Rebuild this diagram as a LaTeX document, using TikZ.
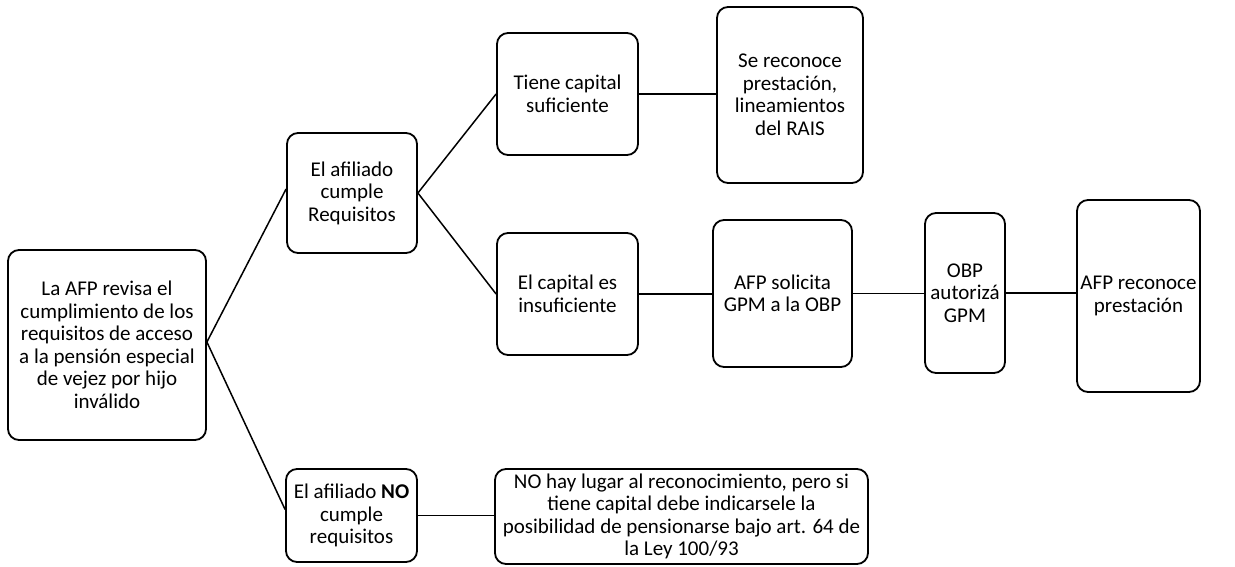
\documentclass[tikz,border=0pt]{standalone}
\usepackage{fontspec}
\setmainfont{Carlito}
\begin{document}
\begin{tikzpicture}[x=1pt,y=-1pt,
  box/.style={draw=black, line width=1.8pt, rounded corners=11pt, align=center,
    inner sep=0pt, font=\fontsize{21}{22.5}\selectfont},
  link/.style={draw=black, line width=1.5pt}]
\useasboundingbox[fill=white] (0,0) rectangle (1235,567);
\node[box, minimum width=198pt, minimum height=190pt] (A) at (107,345)
  {La AFP revisa el\\cumplimiento de los\\requisitos de acceso\\a la pensión especial\\de vejez por hijo\\inválido};
\node[box, minimum width=130pt, minimum height=120pt] (B) at (352,193)
  {El afiliado\\cumple\\Requisitos};
\node[box, minimum width=141pt, minimum height=122pt] (C) at (567.5,94)
  {Tiene capital\\suficiente};
\node[box, minimum width=146pt, minimum height=176pt] (D) at (790,95)
  {Se reconoce\\prestación,\\lineamientos\\del RAIS};
\node[box, minimum width=141pt, minimum height=122pt] (E) at (567.5,294)
  {El capital es\\insuficiente};
\node[box, minimum width=139pt, minimum height=147pt] (F) at (782.5,293.5)
  {AFP solicita\\GPM a la OBP};
\node[box, minimum width=80pt, minimum height=160pt] (G) at (965,293)
  {OBP\\autorizá\\GPM};
\node[box, minimum width=123pt, minimum height=192pt] (H) at (1138.5,296)
  {AFP reconoce\\prestación};
\node[box, minimum width=131pt, minimum height=93pt] (I) at (351.5,515.5)
  {El afiliado \textbf{NO}\\cumple\\requisitos};
\node[box, minimum width=373pt, minimum height=95pt] (J) at (681.5,516.5)
  {NO hay lugar al reconocimiento, pero si\\tiene capital debe indicarsele la\\posibilidad de pensionarse bajo art. 64 de\\la Ley 100/93};
\draw[link] ([yshift=3pt]A.east) -- ([yshift=4pt]B.west);
\draw[link] ([yshift=3pt]A.east) -- ([yshift=6pt]I.west);
\draw[link] (B.east) -- (C.west);
\draw[link] (B.east) -- (E.west);
\draw[link] (C.east) -- (C.east -| D.west);
\draw[link] (E.east) -- (E.east -| F.west);
\draw[link] (F.east) -- (F.east -| G.west);
\draw[link] (G.east) -- (G.east -| H.west);
\draw[link] (I.east) -- (I.east -| J.west);
\end{tikzpicture}
\end{document}
